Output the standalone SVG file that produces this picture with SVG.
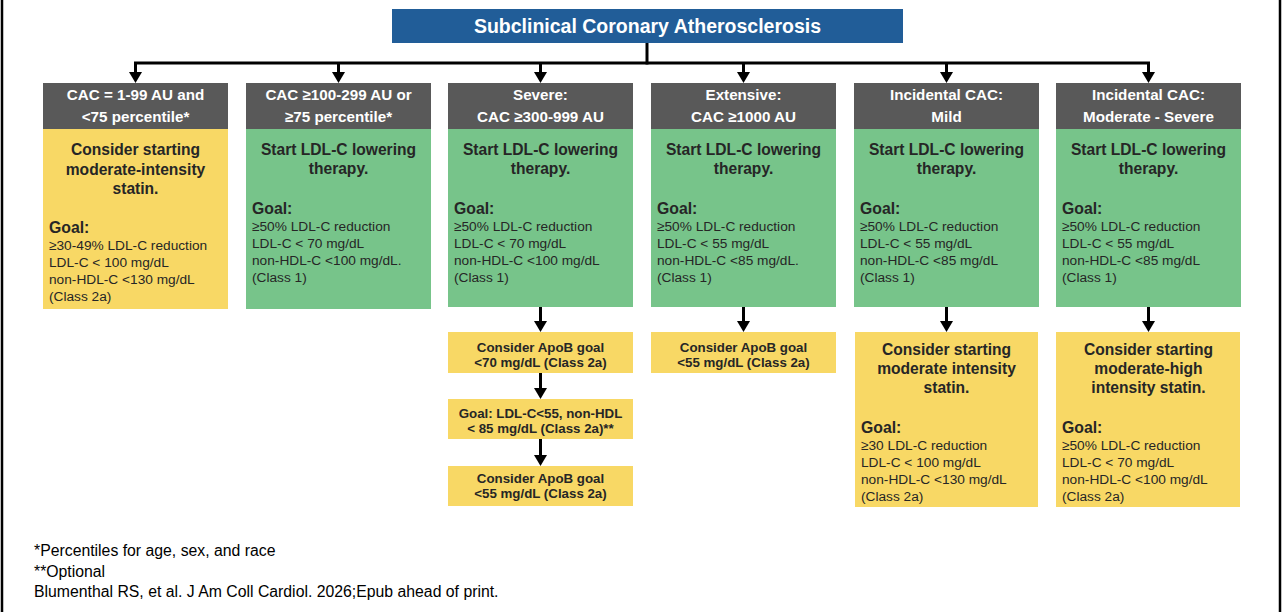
<svg xmlns="http://www.w3.org/2000/svg" width="1283" height="612" viewBox="0 0 1283 612">
<style>
.t{font-family:"Liberation Sans",Arial,sans-serif}
.title{font-size:19.5px;font-weight:bold;fill:#fff}
.hdr{font-size:15.2px;font-weight:bold;fill:#fff}
.bt{font-size:15.6px;font-weight:bold;fill:#262626}
.goal{font-size:15.8px;font-weight:bold;fill:#262626}
.det{font-size:13.7px;fill:#262626}
.sub{font-size:13.3px;font-weight:bold;fill:#262626}
.foot{font-size:15.8px;fill:#000}
.gray{fill:#595959}
.yel{fill:#F8D865}
.grn{fill:#77C48A}
.blue{fill:#215D98}
.conn{stroke:#000;stroke-width:3;fill:none}
</style>
<defs>
<marker id="ah" markerUnits="userSpaceOnUse" markerWidth="12" markerHeight="14" refX="0" refY="6.5" orient="auto" viewBox="0 0 12 13">
<path d="M0,0 L11,6.5 L0,13 z" fill="#000"/>
</marker>
</defs>
<rect width="1283" height="612" fill="#fff"/>
<line x1="2" y1="0" x2="2" y2="612" stroke="#000" stroke-width="2.5"/>
<line x1="1280" y1="0" x2="1280" y2="612" stroke="#000" stroke-width="2.5"/>

<g id="connectors">
<path class="conn" d="M647,43 V63" stroke-linecap="square"/>
<path class="conn" d="M135.5,63 H1148.5" stroke-linecap="square"/>
<path class="conn" d="M135.5,63 V72" marker-end="url(#ah)"/>
<path class="conn" d="M338.5,63 V72" marker-end="url(#ah)"/>
<path class="conn" d="M540.5,63 V72" marker-end="url(#ah)"/>
<path class="conn" d="M743.5,63 V72" marker-end="url(#ah)"/>
<path class="conn" d="M946.5,63 V72" marker-end="url(#ah)"/>
<path class="conn" d="M1148.5,63 V72" marker-end="url(#ah)"/>
<path class="conn" d="M540.5,307 V321" marker-end="url(#ah)"/>
<path class="conn" d="M540.5,373 V388" marker-end="url(#ah)"/>
<path class="conn" d="M540.5,439 V455" marker-end="url(#ah)"/>
<path class="conn" d="M743.5,307 V321" marker-end="url(#ah)"/>
<path class="conn" d="M946.5,307 V321" marker-end="url(#ah)"/>
<path class="conn" d="M1148.5,307 V321" marker-end="url(#ah)"/>
</g>

<g id="title">
<rect class="blue" x="392" y="9" width="511" height="34"/>
<text class="t title" x="647.5" y="33" text-anchor="middle">Subclinical Coronary Atherosclerosis</text>
</g>

<g id="col1">
<rect class="gray" x="43" y="83" width="185" height="46"/>
<text class="t hdr" x="135.5" y="100" text-anchor="middle">CAC = 1-99 AU and</text>
<text class="t hdr" x="135.5" y="122" text-anchor="middle">&lt;75 percentile*</text>
<rect class="yel" x="43" y="129" width="185" height="180"/>
<text class="t bt" x="135.5" y="155" text-anchor="middle">Consider starting</text>
<text class="t bt" x="135.5" y="175" text-anchor="middle">moderate-intensity</text>
<text class="t bt" x="135.5" y="194" text-anchor="middle">statin.</text>
<text class="t goal" x="49" y="233">Goal:</text>
<text class="t det" x="49" y="250">≥30-49% LDL-C reduction</text>
<text class="t det" x="49" y="267">LDL-C &lt; 100 mg/dL</text>
<text class="t det" x="49" y="283.5">non-HDL-C &lt;130 mg/dL</text>
<text class="t det" x="49" y="300.5">(Class 2a)</text>
</g>

<g id="col2">
<rect class="gray" x="246" y="83" width="185" height="46"/>
<text class="t hdr" x="338.5" y="100" text-anchor="middle">CAC ≥100-299 AU or</text>
<text class="t hdr" x="338.5" y="122" text-anchor="middle">≥75 percentile*</text>
<rect class="grn" x="246" y="129" width="185" height="180"/>
<text class="t bt" x="338.5" y="155" text-anchor="middle">Start LDL-C lowering</text>
<text class="t bt" x="338.5" y="174" text-anchor="middle">therapy.</text>
<text class="t goal" x="252" y="214">Goal:</text>
<text class="t det" x="252" y="231">≥50% LDL-C reduction</text>
<text class="t det" x="252" y="248">LDL-C &lt; 70 mg/dL</text>
<text class="t det" x="252" y="265">non-HDL-C &lt;100 mg/dL.</text>
<text class="t det" x="252" y="282">(Class 1)</text>
</g>

<g id="col3">
<rect class="gray" x="448" y="83" width="185" height="46"/>
<text class="t hdr" x="540.5" y="100" text-anchor="middle">Severe:</text>
<text class="t hdr" x="540.5" y="122" text-anchor="middle">CAC ≥300-999 AU</text>
<rect class="grn" x="448" y="129" width="185" height="178"/>
<text class="t bt" x="540.5" y="155" text-anchor="middle">Start LDL-C lowering</text>
<text class="t bt" x="540.5" y="174" text-anchor="middle">therapy.</text>
<text class="t goal" x="454" y="214">Goal:</text>
<text class="t det" x="454" y="231">≥50% LDL-C reduction</text>
<text class="t det" x="454" y="248">LDL-C &lt; 70 mg/dL</text>
<text class="t det" x="454" y="265">non-HDL-C &lt;100 mg/dL</text>
<text class="t det" x="454" y="282">(Class 1)</text>
</g>
<g id="col3-apob70">
<rect class="yel" x="448" y="332" width="185" height="41"/>
<text class="t sub" x="540.5" y="352" text-anchor="middle">Consider ApoB goal</text>
<text class="t sub" x="540.5" y="367" text-anchor="middle">&lt;70 mg/dL (Class 2a)</text>
</g>
<g id="col3-goal55">
<rect class="yel" x="448" y="399" width="185" height="40"/>
<text class="t sub" x="540.5" y="418" text-anchor="middle">Goal: LDL-C&lt;55, non-HDL</text>
<text class="t sub" x="540.5" y="433" text-anchor="middle">&lt; 85 mg/dL (Class 2a)**</text>
</g>
<g id="col3-apob55">
<rect class="yel" x="448" y="466" width="185" height="40"/>
<text class="t sub" x="540.5" y="483" text-anchor="middle">Consider ApoB goal</text>
<text class="t sub" x="540.5" y="498" text-anchor="middle">&lt;55 mg/dL (Class 2a)</text>
</g>

<g id="col4">
<rect class="gray" x="651" y="83" width="185" height="46"/>
<text class="t hdr" x="743.5" y="100" text-anchor="middle">Extensive:</text>
<text class="t hdr" x="743.5" y="122" text-anchor="middle">CAC ≥1000 AU</text>
<rect class="grn" x="651" y="129" width="185" height="178"/>
<text class="t bt" x="743.5" y="155" text-anchor="middle">Start LDL-C lowering</text>
<text class="t bt" x="743.5" y="174" text-anchor="middle">therapy.</text>
<text class="t goal" x="657" y="214">Goal:</text>
<text class="t det" x="657" y="231">≥50% LDL-C reduction</text>
<text class="t det" x="657" y="248">LDL-C &lt; 55 mg/dL</text>
<text class="t det" x="657" y="265">non-HDL-C &lt;85 mg/dL.</text>
<text class="t det" x="657" y="282">(Class 1)</text>
</g>
<g id="col4-apob55">
<rect class="yel" x="651" y="332" width="185" height="41"/>
<text class="t sub" x="743.5" y="352" text-anchor="middle">Consider ApoB goal</text>
<text class="t sub" x="743.5" y="367" text-anchor="middle">&lt;55 mg/dL (Class 2a)</text>
</g>

<g id="col5">
<rect class="gray" x="854" y="83" width="185" height="46"/>
<text class="t hdr" x="946.5" y="100" text-anchor="middle">Incidental CAC:</text>
<text class="t hdr" x="946.5" y="122" text-anchor="middle">Mild</text>
<rect class="grn" x="854" y="129" width="185" height="178"/>
<text class="t bt" x="946.5" y="155" text-anchor="middle">Start LDL-C lowering</text>
<text class="t bt" x="946.5" y="174" text-anchor="middle">therapy.</text>
<text class="t goal" x="860" y="214">Goal:</text>
<text class="t det" x="860" y="231">≥50% LDL-C reduction</text>
<text class="t det" x="860" y="248">LDL-C &lt; 55 mg/dL</text>
<text class="t det" x="860" y="265">non-HDL-C &lt;85 mg/dL</text>
<text class="t det" x="860" y="282">(Class 1)</text>
</g>
<g id="col5-statin">
<rect class="yel" x="855" y="332" width="183" height="175"/>
<text class="t bt" x="946.5" y="355" text-anchor="middle">Consider starting</text>
<text class="t bt" x="946.5" y="374" text-anchor="middle">moderate intensity</text>
<text class="t bt" x="946.5" y="393" text-anchor="middle">statin.</text>
<text class="t goal" x="861" y="433">Goal:</text>
<text class="t det" x="861" y="450">≥30 LDL-C reduction</text>
<text class="t det" x="861" y="467">LDL-C &lt; 100 mg/dL</text>
<text class="t det" x="861" y="483.5">non-HDL-C &lt;130 mg/dL</text>
<text class="t det" x="861" y="500.5">(Class 2a)</text>
</g>

<g id="col6">
<rect class="gray" x="1056" y="83" width="185" height="46"/>
<text class="t hdr" x="1148.5" y="100" text-anchor="middle">Incidental CAC:</text>
<text class="t hdr" x="1148.5" y="122" text-anchor="middle">Moderate - Severe</text>
<rect class="grn" x="1056" y="129" width="185" height="178"/>
<text class="t bt" x="1148.5" y="155" text-anchor="middle">Start LDL-C lowering</text>
<text class="t bt" x="1148.5" y="174" text-anchor="middle">therapy.</text>
<text class="t goal" x="1062" y="214">Goal:</text>
<text class="t det" x="1062" y="231">≥50% LDL-C reduction</text>
<text class="t det" x="1062" y="248">LDL-C &lt; 55 mg/dL</text>
<text class="t det" x="1062" y="265">non-HDL-C &lt;85 mg/dL</text>
<text class="t det" x="1062" y="282">(Class 1)</text>
</g>
<g id="col6-statin">
<rect class="yel" x="1056" y="332" width="184" height="175"/>
<text class="t bt" x="1148.5" y="355" text-anchor="middle">Consider starting</text>
<text class="t bt" x="1148.5" y="374" text-anchor="middle">moderate-high</text>
<text class="t bt" x="1148.5" y="393" text-anchor="middle">intensity statin.</text>
<text class="t goal" x="1062" y="433">Goal:</text>
<text class="t det" x="1062" y="450">≥50% LDL-C reduction</text>
<text class="t det" x="1062" y="467">LDL-C &lt; 70 mg/dL</text>
<text class="t det" x="1062" y="483.5">non-HDL-C &lt;100 mg/dL</text>
<text class="t det" x="1062" y="500.5">(Class 2a)</text>
</g>

<g id="footnotes">
<text class="t foot" x="34" y="556">*Percentiles for age, sex, and race</text>
<text class="t foot" x="34" y="577">**Optional</text>
<text class="t foot" x="34" y="597">Blumenthal RS, et al. J Am Coll Cardiol. 2026;Epub ahead of print.</text>
</g>
</svg>
